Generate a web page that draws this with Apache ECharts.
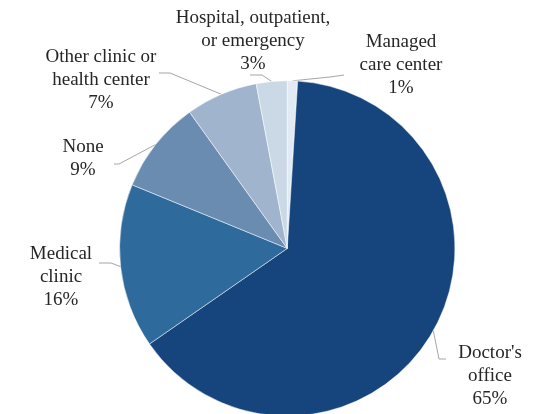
<html>
  <head>
    <meta charset="utf-8" />
    <title>ECharts</title>
    <script src="https://cdn.jsdelivr.net/npm/echarts@6/dist/echarts.min.js"></script>
  </head>
  <body style="margin:0;background:#fff;">
    <div id="main" style="width:542px;height:414px;"></div>
    <script type="text/javascript">
      // data, clockwise from 12 o'clock
      var categories = ["Managed\ncare center", "Doctor's\noffice", "Medical\nclinic", "None",
                        "Other clinic or\nhealth center", "Hospital, outpatient,\nor emergency"];
      var shares = [1, 65, 16, 9, 7, 3];
      var colors = ['#e2ebf4', '#16457e', '#2e6a9b', '#6a8cb1', '#a0b5cd', '#cbd9e6'];

      // where each label sits and how its leader line bends (knee, end)
      var labelPos = [
        { x: 401, y: 65, knee: [330, 77], end: [344, 75] },
        { x: 490, y: 376, knee: [439, 359], end: [446, 359] },
        { x: 61, y: 277, knee: [111, 263], end: [99, 263] },
        { x: 83, y: 159, knee: [119, 164], end: [114, 164] },
        { x: 101, y: 80, knee: [170, 73], end: [159, 73] },
        { x: 253, y: 41, knee: [262, 75], end: [250, 75] }
      ];

      var pieData = categories.map(function (name, i) {
        return { name: name, value: shares[i], itemStyle: { color: colors[i] } };
      });

      var myChart = echarts.init(document.getElementById('main'));
      var option = {
        animation: false,
        backgroundColor: '#fff',
        series: [
          {
            type: 'pie',
            center: ['53%', '60%'],
            radius: '81%',
            startAngle: 90,
            clockwise: true,
            data: pieData,
            itemStyle: { borderColor: '#ffffff', borderWidth: 0.5 },
            label: {
              show: true,
              position: 'outside',
              formatter: '{b}\n{c}%',
              fontFamily: 'Liberation Serif',
              fontSize: 19,
              lineHeight: 23,
              color: '#262626',
              align: 'center',
              overflow: 'none'
            },
            labelLine: {
              show: true,
              lineStyle: { color: '#a6a6a6', width: 1 }
            },
            labelLayout: function (params) {
              var p = labelPos[params.dataIndex];
              var anchor = params.labelLinePoints ? params.labelLinePoints[0] : p.knee;
              return {
                x: p.x,
                y: p.y,
                align: 'center',
                verticalAlign: 'middle',
                labelLinePoints: [anchor, p.knee, p.end]
              };
            }
          }
        ]
      };
      myChart.setOption(option);
    </script>
  </body>
</html>
